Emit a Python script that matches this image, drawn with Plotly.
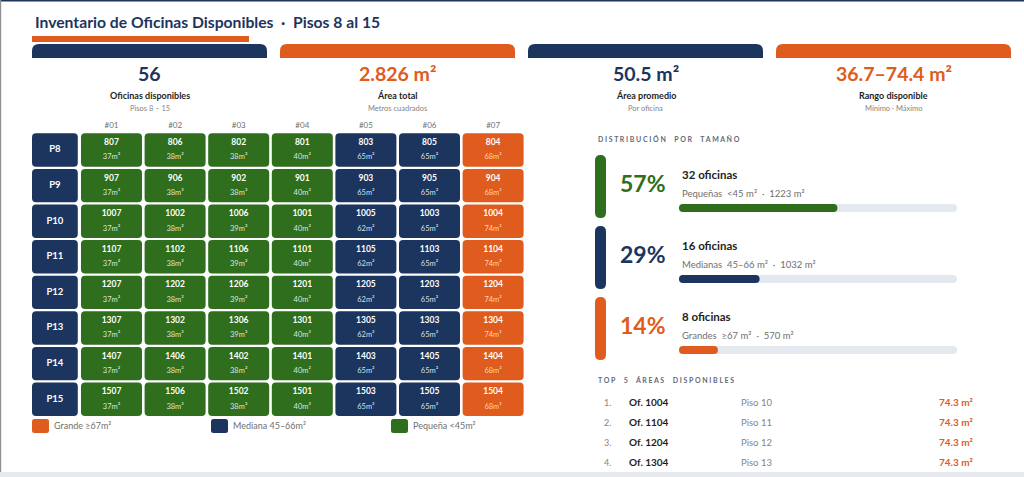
import plotly.graph_objects as go

# colours / fonts
NAVY = "#1c355e"
ORANGE = "#e05b1e"
GREEN = "#2e6e1c"
GREY_TXT = "#858585"
DARK_TXT = "#1e1e1e"
SLATE = "#5f6b7c"
TRACK = "#e4e9ef"
FONT = "Lato"
W, H = 1024, 477

# ---- data ----
title_main = "Inventario de Oficinas Disponibles"
title_sub = "Pisos 8 al 15"

kpi_values = ["56", "2.826 m²", "50.5 m²", "36.7–74.4 m²"]
kpi_labels = ["Oficinas disponibles", "Área total", "Área promedio", "Rango disponible"]
kpi_notes = ["Pisos 8 – 15", "Metros cuadrados", "Por oficina", "Mínimo · Máximo"]

floors = ["P8", "P9", "P10", "P11", "P12", "P13", "P14", "P15"]
columns = ["#01", "#02", "#03", "#04", "#05", "#06", "#07"]
offices = [
    ["807", "806", "802", "801", "803", "805", "804"],
    ["907", "906", "902", "901", "903", "905", "904"],
    ["1007", "1002", "1006", "1001", "1005", "1003", "1004"],
    ["1107", "1102", "1106", "1101", "1105", "1103", "1104"],
    ["1207", "1202", "1206", "1201", "1205", "1203", "1204"],
    ["1307", "1302", "1306", "1301", "1305", "1303", "1304"],
    ["1407", "1406", "1402", "1401", "1403", "1405", "1404"],
    ["1507", "1506", "1502", "1501", "1503", "1505", "1504"],
]
areas = [
    [37, 38, 38, 40, 65, 65, 68],
    [37, 38, 38, 40, 65, 65, 68],
    [37, 38, 39, 40, 62, 65, 74],
    [37, 38, 39, 40, 62, 65, 74],
    [37, 38, 39, 40, 62, 65, 74],
    [37, 38, 39, 40, 62, 65, 74],
    [37, 38, 38, 40, 65, 65, 68],
    [37, 38, 38, 40, 65, 65, 68],
]

legend_labels = ["Grande ≥67m²", "Mediana 45–66m²", "Pequeña <45m²"]

dist_pct = [57, 29, 14]
dist_count = [32, 16, 8]
dist_name = ["Pequeñas", "Medianas", "Grandes"]
dist_range = ["<45 m²", "45–66 m²", "≥67 m²"]
dist_area = [1223, 1032, 570]

top_offices = ["1004", "1104", "1204", "1304"]
top_floors = [10, 11, 12, 13]
top_areas = [74.3, 74.3, 74.3, 74.3]


def size_colour(a):
    if a >= 67:
        return ORANGE
    if a >= 45:
        return NAVY
    return GREEN


def rrect(x0, y0, x1, y1, rx, ry, top_only=False):
    if top_only:
        return (f"M {x0},{y1} L {x0},{y0+ry} Q {x0},{y0} {x0+rx},{y0} "
                f"L {x1-rx},{y0} Q {x1},{y0} {x1},{y0+ry} L {x1},{y1} Z")
    return (f"M {x0+rx},{y0} L {x1-rx},{y0} Q {x1},{y0} {x1},{y0+ry} "
            f"L {x1},{y1-ry} Q {x1},{y1} {x1-rx},{y1} L {x0+rx},{y1} "
            f"Q {x0},{y1} {x0},{y1-ry} L {x0},{y0+ry} Q {x0},{y0} {x0+rx},{y0} Z")


def spaced(s, sep="\u00a0"):
    return sep.join(s.replace(" ", "\u00a0\u00a0"))


nb = "\u00a0"
shapes = []
annotations = []


def label(x, y, text, size, color, weight="normal", xanchor="center", ref=("x", "y")):
    annotations.append(dict(x=x, y=y, xref=ref[0], yref=ref[1], text=text, showarrow=False,
                            xanchor=xanchor, yanchor="middle",
                            font=dict(family=FONT, size=size, color=color, weight=weight)))


def box(**kw):
    kw.setdefault("line_width", 0)
    kw.setdefault("layer", "below")
    shapes.append(kw)


fig = go.Figure()
# invisible anchor for the pixel canvas axes
fig.add_trace(go.Scatter(x=[0], y=[0], mode="markers", marker=dict(opacity=0),
                         hoverinfo="skip", showlegend=False))

# frame
box(type="rect", x0=0, x1=W, y0=0, y1=1.5, fillcolor=NAVY)
box(type="rect", x0=0, x1=1.2, y0=0, y1=472, fillcolor="#8f8f8f")
box(type="rect", x0=0, x1=W, y0=472, y1=H, fillcolor="#e6eaef")

# title
label(33, 22, f"{title_main}{nb*2}·{nb*2}{title_sub}", 15.7, NAVY, "bold", "left")
box(type="rect", x0=32, x1=249, y0=36, y1=42, fillcolor=ORANGE)

# KPI cards
card_x0 = [32, 280, 528, 776]
card_col = [NAVY, ORANGE, NAVY, ORANGE]
for i, x0 in enumerate(card_x0):
    box(type="path", path=rrect(x0, 44, x0 + 235, 58, 7, 7, top_only=True), fillcolor=card_col[i])
    cx = x0 + 117.5
    label(cx, 73, kpi_values[i], 19.5, card_col[i], "bold")
    label(cx, 95, kpi_labels[i], 9, DARK_TXT, "bold")
    label(cx, 108, kpi_notes[i], 7.5, GREY_TXT)

# ---- office grid (x2 / y2) ----
COL_PX, ROW_PX, X1_PX, Y0_PX = 63.6, 35.6, 111.5, 150.0
xr = [-0.3, 7.55]
yr = [7.55, -0.55]
x2_dom = [(X1_PX + (xr[0] - 1) * COL_PX) / W, (X1_PX + (xr[1] - 1) * COL_PX) / W]
y2_dom = [1 - (Y0_PX + yr[0] * ROW_PX) / H, 1 - (Y0_PX + yr[1] * ROW_PX) / H]
gx, gy = 1.3 / COL_PX, 1.1 / ROW_PX
rx, ry = 4 / COL_PX, 4 / ROW_PX

num_x, num_y, num_t, ar_x, ar_y, ar_t, ar_c = [], [], [], [], [], [], []
for r, fl in enumerate(floors):
    box(type="path", xref="x2", yref="y2",
        path=rrect(-0.25, r - 0.5 + gy, 0.47, r + 0.5 - gy, rx, ry), fillcolor=NAVY)
    for c in range(len(columns)):
        a = areas[r][c]
        box(type="path", xref="x2", yref="y2",
            path=rrect(c + 0.5 + gx, r - 0.5 + gy, c + 1.5 - gx, r + 0.5 - gy, rx, ry),
            fillcolor=size_colour(a))
        num_x.append(c + 1); num_y.append(r - 0.2); num_t.append(offices[r][c])
        ar_x.append(c + 1); ar_y.append(r + 0.21); ar_t.append(f"{a}m²")
        ar_c.append("rgba(255,222,208,0.95)" if a >= 67 else "rgba(255,255,255,0.85)")

fig.add_trace(go.Scatter(x=[0.11] * len(floors), y=list(range(len(floors))), text=floors,
                         mode="text", xaxis="x2", yaxis="y2", hoverinfo="skip", showlegend=False,
                         textfont=dict(family=FONT, size=9.5, color="white", weight="bold")))
fig.add_trace(go.Scatter(x=num_x, y=num_y, text=num_t, mode="text", xaxis="x2", yaxis="y2",
                         hoverinfo="skip", showlegend=False,
                         textfont=dict(family=FONT, size=8.5, color="white", weight="bold")))
fig.add_trace(go.Scatter(x=ar_x, y=ar_y, text=ar_t, mode="text", xaxis="x2", yaxis="y2",
                         hoverinfo="skip", showlegend=False,
                         textfont=dict(family=FONT, size=7.5, color=ar_c)))

# grid legend
leg_x = [32, 211, 391]
leg_col = [ORANGE, NAVY, GREEN]
for i, lx in enumerate(leg_x):
    box(type="path", path=rrect(lx, 419, lx + 17, 433, 2.5, 2.5), fillcolor=leg_col[i])
    label(lx + 20, 425, legend_labels[i], 9, "#6f6f6f", xanchor="left")

# ---- distribution ----
dist_col = [GREEN, NAVY, ORANGE]
label(596, 139, spaced("DISTRIBUCIÓN POR TAMAÑO"), 7, SLATE, "bold", "left")
for i in range(3):
    oy = 71 * i
    box(type="path", path=rrect(595, 155 + oy, 606, 218 + oy, 5.5, 5.5), fillcolor=dist_col[i])
    label(643, 183 + oy, f"{dist_pct[i]}%", 23, dist_col[i], "bold")
    label(680, 174 + oy, f"{dist_count[i]} oficinas", 11.5, DARK_TXT, "bold", "left")
    label(680, 193 + oy,
          f"{dist_name[i]}{nb*2}{dist_range[i]}{nb*2}·{nb*2}{dist_area[i]} m²",
          9.5, "#6f6f6f", xanchor="left")

# progress bars on their own axes (x3 / y3), 0..100 %
BAR_PX_X, BAR_PX_Y = 278 / 100, 71.0
bh = 4 / BAR_PX_Y
brx = 4 / BAR_PX_X
for i, p in enumerate(dist_pct):
    box(type="path", xref="x3", yref="y3",
        path=rrect(0, i - bh, 100, i + bh, brx, bh), fillcolor=TRACK)
    box(type="path", xref="x3", yref="y3",
        path=rrect(0, i - bh, p, i + bh, brx, bh), fillcolor=dist_col[i])
fig.add_trace(go.Scatter(x=dist_pct, y=[0, 1, 2], mode="markers", marker=dict(opacity=0),
                         xaxis="x3", yaxis="y3", hoverinfo="skip", showlegend=False))

# ---- top 5 ----
label(596, 380, spaced("TOP 5 ÁREAS DISPONIBLES"), 7, SLATE, "bold", "left")
for i, of in enumerate(top_offices):
    ty = 402 + 20 * i
    label(607, ty, f"{i + 1}.", 9, GREY_TXT)
    label(627, ty, f"Of. {of}", 10, DARK_TXT, "bold", "left")
    label(739, ty, f"Piso {top_floors[i]}", 9.5, GREY_TXT, xanchor="left")
    label(975, ty, f"{top_areas[i]} m²", 10, ORANGE, "bold", "right")

hidden = dict(visible=False, fixedrange=True)
fig.update_layout(
    width=W, height=H,
    margin=dict(l=0, r=0, t=0, b=0),
    paper_bgcolor="white", plot_bgcolor="rgba(0,0,0,0)",
    showlegend=False,
    xaxis=dict(range=[0, W], domain=[0, 1], **hidden),
    yaxis=dict(range=[H, 0], domain=[0, 1], **hidden),
    xaxis2=dict(range=xr, domain=x2_dom, anchor="y2", side="top",
                tickvals=list(range(1, 8)), ticktext=columns,
                tickfont=dict(family=FONT, size=8, color="#6f6f6f"),
                ticks="", showgrid=False, zeroline=False, showline=False, fixedrange=True),
    yaxis2=dict(range=yr, domain=y2_dom, anchor="x2", showticklabels=False,
                showgrid=False, zeroline=False, showline=False, fixedrange=True),
    xaxis3=dict(range=[0, 100], domain=[679 / W, 957 / W], anchor="y3", **hidden),
    yaxis3=dict(range=[2.5, -0.5], domain=[1 - 385.5 / H, 1 - 172.5 / H], anchor="x3", **hidden),
    shapes=shapes,
    annotations=annotations,
)

fig.write_html("out.html", config={"displayModeBar": False},
               post_script="document.body.style.margin='0';")
